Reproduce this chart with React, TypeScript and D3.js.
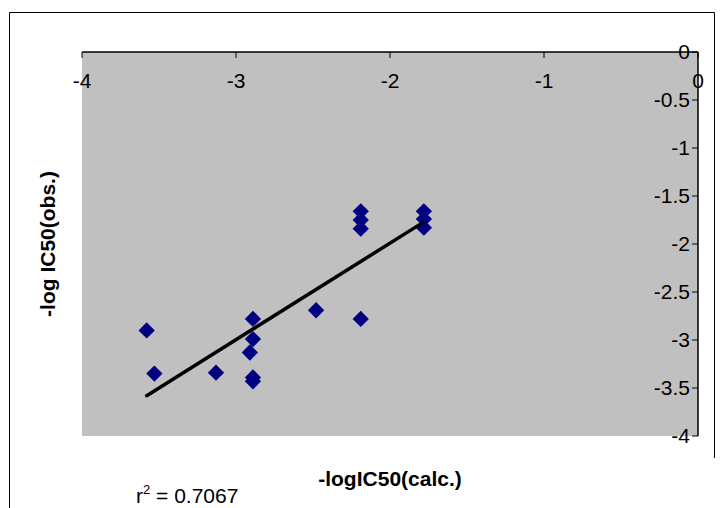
import React, { useEffect, useRef } from "react";
import * as d3 from "d3";

// -logIC50 calculated vs observed
const calcValues = [-3.58, -3.53, -3.13, -2.89, -2.89, -2.91, -2.89, -2.89, -2.48, -2.19, -2.19, -2.19, -2.19, -1.78, -1.78, -1.78];
const obsValues = [-2.9, -3.35, -3.34, -2.78, -2.99, -3.13, -3.39, -3.43, -2.69, -2.78, -1.66, -1.75, -1.84, -1.66, -1.74, -1.83];

// trend line end points [x, y]
const trendLine: [number, number][] = [[-3.58, -3.58], [-1.79, -1.78]];

const xTicks = [-4, -3, -2, -1, 0];
const yTicks = [0, -0.5, -1, -1.5, -2, -2.5, -3, -3.5, -4];
const r2Label = "0.7067";

const App = () => {
  const ref = useRef<SVGSVGElement>(null);

  useEffect(() => {
    const svg = d3.select(ref.current);
    svg.selectAll("*").remove();

    const left = 82, right = 698, top = 52, bottom = 436;
    const font = "Arial, 'Liberation Sans', sans-serif";
    const fs = 21;

    const x = d3.scaleLinear().domain([-4, 0]).range([left, right]);
    const y = d3.scaleLinear().domain([-4, 0]).range([bottom, top]);

    // chart frame (cut off at bottom)
    svg.append("path")
      .attr("d", "M9.5,508 L9.5,12.5 L714.5,12.5 L714.5,458")
      .attr("fill", "none")
      .attr("stroke", "#000")
      .attr("stroke-width", 1);

    // plot area
    svg.append("rect")
      .attr("x", left)
      .attr("y", top)
      .attr("width", right - left)
      .attr("height", bottom - top)
      .attr("fill", "#c0c0c0");

    // top x axis, ticks pointing inward
    const xAxis = svg.append("g").attr("transform", `translate(0,${top})`);
    xAxis.append("line")
      .attr("x1", left).attr("x2", right)
      .attr("stroke", "#000").attr("stroke-width", 1.5);
    xAxis.selectAll("line.tick")
      .data(xTicks)
      .join("line")
      .attr("class", "tick")
      .attr("x1", d => x(d)).attr("x2", d => x(d))
      .attr("y1", 0).attr("y2", 6)
      .attr("stroke", "#000");
    xAxis.selectAll("text")
      .data(xTicks)
      .join("text")
      .attr("x", d => x(d))
      .attr("y", 36)
      .attr("text-anchor", "middle")
      .attr("font-family", font)
      .attr("font-size", fs)
      .text(d => d);

    // right y axis, ticks pointing inward
    const yAxis = svg.append("g").attr("transform", `translate(${right},0)`);
    yAxis.append("line")
      .attr("y1", top).attr("y2", bottom)
      .attr("stroke", "#000").attr("stroke-width", 1.5);
    yAxis.selectAll("line.tick")
      .data(yTicks)
      .join("line")
      .attr("class", "tick")
      .attr("x1", -6).attr("x2", 0)
      .attr("y1", d => y(d)).attr("y2", d => y(d))
      .attr("stroke", "#000");
    yAxis.selectAll("text")
      .data(yTicks)
      .join("text")
      .attr("x", -8)
      .attr("y", d => y(d))
      .attr("dy", "0.35em")
      .attr("text-anchor", "end")
      .attr("font-family", font)
      .attr("font-size", fs)
      .text(d => d);

    // points
    const diamond = d3.symbol().type(d3.symbolDiamond2).size(170);
    svg.append("g")
      .selectAll("path")
      .data(calcValues.map((c, i) => [c, obsValues[i]]))
      .join("path")
      .attr("d", diamond)
      .attr("transform", d => `translate(${x(d[0])},${y(d[1])})`)
      .attr("fill", "#000080");

    // trend line
    svg.append("path")
      .datum(trendLine)
      .attr("d", d3.line().x(d => x(d[0])).y(d => y(d[1])))
      .attr("stroke", "#000")
      .attr("stroke-width", 3.5)
      .attr("stroke-linecap", "round")
      .attr("fill", "none");

    // axis titles
    svg.append("text")
      .attr("x", (left + right) / 2)
      .attr("y", 486)
      .attr("text-anchor", "middle")
      .attr("font-family", font)
      .attr("font-size", fs)
      .attr("font-weight", "bold")
      .text("-logIC50(calc.)");

    svg.append("text")
      .attr("transform", `translate(55,${(top + bottom) / 2}) rotate(-90)`)
      .attr("text-anchor", "middle")
      .attr("font-family", font)
      .attr("font-size", fs)
      .attr("font-weight", "bold")
      .text("-log IC50(obs.)");

    // r squared
    const r2 = svg.append("text")
      .attr("x", 136)
      .attr("y", 503)
      .attr("font-family", font)
      .attr("font-size", fs);
    r2.append("tspan").text("r");
    r2.append("tspan").attr("font-size", 13).attr("dy", -9).text("2");
    r2.append("tspan").attr("dy", 9).text(` = ${r2Label}`);
  }, []);

  return (
    <svg
      ref={ref}
      width={720}
      height={508}
      style={{ position: "absolute", left: 0, top: 0, background: "#fff" }}
    />
  );
};

export default App;
